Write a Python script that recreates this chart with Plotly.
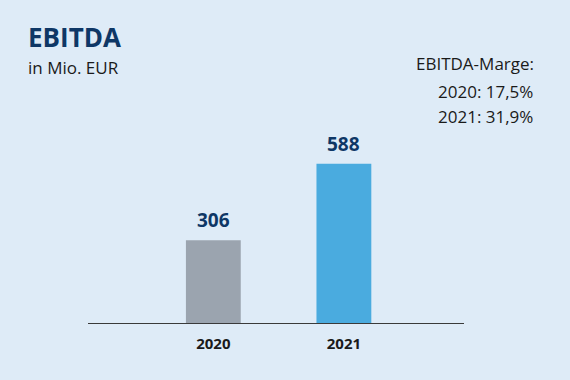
import plotly.graph_objects as go

years = ["2020", "2021"]
ebitda = [306, 588]
value_labels = ["306", "588"]
bar_colors = ["#9ba4af", "#4aabdf"]
margin_lines = ["EBITDA-Marge:", "2020: 17,5%", "2021: 31,9%"]

BG = "#deebf7"
NAVY = "#0e3766"
FONT = "Open Sans"

W, H = 570, 380
ML, MR, MT, MB = 88, 570 - 464, 140, 380 - 323
PW, PH = W - ML - MR, H - MT - MB

fig = go.Figure()
fig.add_trace(go.Bar(
    x=years, y=ebitda,
    marker=dict(color=bar_colors, line=dict(width=0)),
    width=0.42,
    hoverinfo="skip",
))

for i, (v, lab) in enumerate(zip(ebitda, value_labels)):
    fig.add_annotation(x=i, y=v, xref="x", yref="y", text=f"<b>{lab}</b>",
                       showarrow=False, yanchor="bottom", yshift=5,
                       font=dict(family=FONT, size=19, color=NAVY))

layout_annotations = [
    dict(text="<b>EBITDA</b>", x=26, y=37, size=26, color=NAVY, xanchor="left"),
    dict(text="in Mio. EUR", x=26, y=67, size=17, color="#1a1a1a", xanchor="left"),
    dict(text=margin_lines[0], x=536, y=63, size=17, color="#1a1a1a", xanchor="right"),
    dict(text=margin_lines[1], x=535, y=92, size=17, color="#1a1a1a", xanchor="right"),
    dict(text=margin_lines[2], x=535, y=116, size=17, color="#1a1a1a", xanchor="right"),
]

for a in layout_annotations:
    fig.add_annotation(
        xref="paper", yref="paper",
        x=(a["x"] - ML) / PW, y=(H - MB - a["y"]) / PH,
        text=a["text"], showarrow=False,
        xanchor=a["xanchor"], yanchor="middle",
        font=dict(family=FONT, size=a["size"], color=a["color"]),
    )

fig.update_layout(
    width=W, height=H,
    margin=dict(l=ML, r=MR, t=MT, b=MB),
    paper_bgcolor=BG, plot_bgcolor=BG,
    showlegend=False,
    font=dict(family=FONT),
    xaxis=dict(
        type="category", range=[-0.96, 1.92],
        showline=True, linecolor="#3a3a3a", linewidth=1,
        showgrid=False, zeroline=False,
        ticks="outside", ticklen=7, tickcolor=BG,
        tickfont=dict(family=FONT, size=15, color="#1a1a1a", weight="bold"),
    ),
    yaxis=dict(
        range=[0, 676], visible=False, showgrid=False, zeroline=False,
    ),
)

fig.write_html("out.html", config={"displayModeBar": False},
               post_script="document.body.style.margin='0';")
